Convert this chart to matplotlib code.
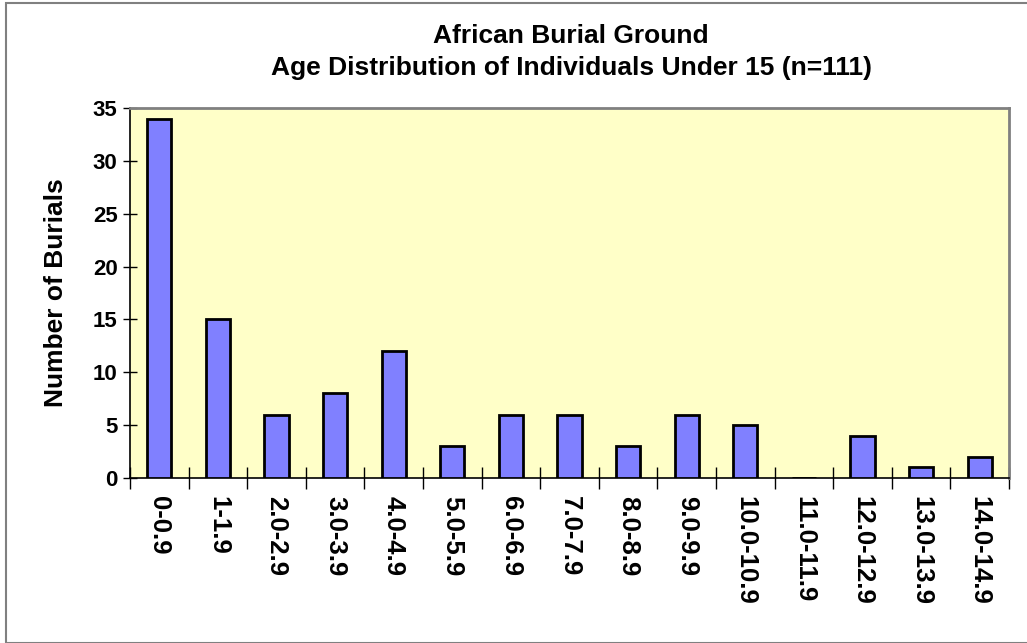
import numpy as np
import matplotlib.pyplot as plt
from matplotlib.patches import Rectangle

plt.rcParams['font.family'] = ['Liberation Sans', 'DejaVu Sans']
plt.rcParams['font.weight'] = 'bold'

# Data
age_groups = ['0-0.9', '1-1.9', '2.0-2.9', '3.0-3.9', '4.0-4.9', '5.0-5.9',
              '6.0-6.9', '7.0-7.9', '8.0-8.9', '9.0-9.9', '10.0-10.9',
              '11.0-11.9', '12.0-12.9', '13.0-13.9', '14.0-14.9']
burials = [34, 15, 6, 8, 12, 3, 6, 6, 3, 6, 5, 0, 4, 1, 2]
y_ticks = [0, 5, 10, 15, 20, 25, 30, 35]

fig = plt.figure(figsize=(10.27, 6.43), dpi=100)
W, H = 1027, 643

# outer chart frame (only left/top visible in the crop)
fig.patches.append(Rectangle((6 / W, 0), 1.2, 1 - 3 / H, transform=fig.transFigure,
                             fill=False, edgecolor='#808080', linewidth=1.5))

ax = fig.add_axes([130 / W, 1 - 478 / H, (1009 - 130) / W, (478 - 108) / H])
ax.set_facecolor('#FFFFC8')

x = np.arange(len(age_groups))
ax.bar(x, burials, width=0.41, color='#8080FF', edgecolor='black', linewidth=2, zorder=3)

ax.set_xlim(-0.5, len(age_groups) - 0.5)
ax.set_ylim(0, 35)
ax.set_yticks(y_ticks)
ax.set_yticklabels([str(v) for v in y_ticks], fontsize=16, fontweight='bold')

# ticks between categories
ax.set_xticks(np.arange(-0.5, len(age_groups)), minor=False)
ax.set_xticklabels([])
ax.set_xticks(x, minor=True)
ax.set_xticklabels(age_groups, minor=True, rotation=270, fontsize=18.5,
                   fontweight='bold', va='top', ha='center')
ax.tick_params(axis='x', which='major', direction='inout', length=16, width=1)
ax.tick_params(axis='x', which='minor', length=0, pad=13)
ax.tick_params(axis='y', direction='inout', length=10, width=1, pad=4)

for s in ['top', 'right']:
    ax.spines[s].set_color('#808080')
    ax.spines[s].set_linewidth(2)
for s in ['left', 'bottom']:
    ax.spines[s].set_color('black')
    ax.spines[s].set_linewidth(1.2)

ax.set_ylabel('Number of Burials', fontsize=19, fontweight='bold', labelpad=18)

fig.text(0.556, 1 - 36 / H, 'African Burial Ground', ha='center', va='center',
         fontsize=19, fontweight='bold')
fig.text(0.556, 1 - 68 / H, 'Age Distribution of Individuals Under 15 (n=111)',
         ha='center', va='center', fontsize=19, fontweight='bold')

fig.savefig('out.png', dpi=100)
